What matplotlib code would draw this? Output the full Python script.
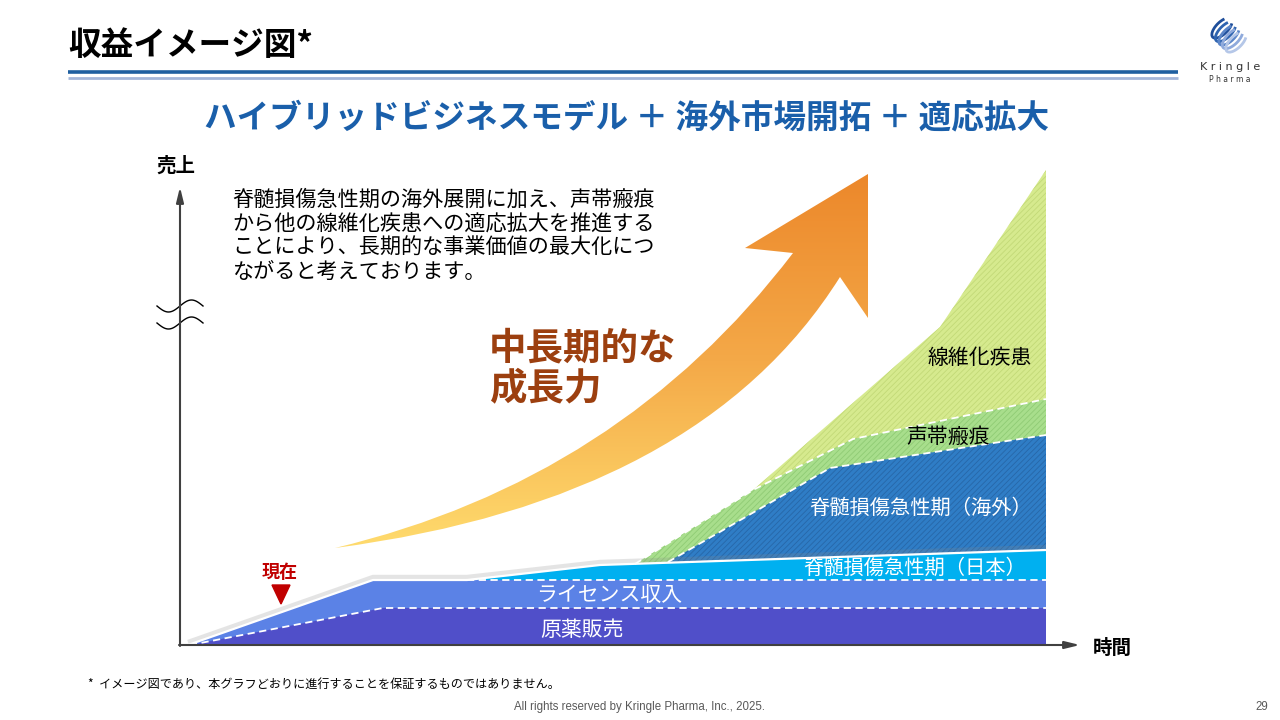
import numpy as np
import matplotlib.pyplot as plt
from matplotlib.path import Path
from matplotlib.patches import PathPatch, Polygon, Arc
from matplotlib.colors import LinearSegmentedColormap
import matplotlib.patheffects as pe

plt.rcParams['font.family'] = ['Noto Sans CJK JP', 'DejaVu Sans']
plt.rcParams['hatch.linewidth'] = 0.6

# --- data: revenue image (x: time, y: sales, arbitrary units) ---
api_x = [10, 203, 866]            # 原薬販売
api_y = [0, 37, 37]
license_x = [8, 193, 287, 866]    # ライセンス収入
license_y = [0, 65, 65, 65]
japan_x = [287, 420, 866]         # 脊髄損傷急性期（日本）
japan_y = [65, 80, 95]
overseas_x = [488, 650, 866]      # 脊髄損傷急性期（海外）
overseas_y = [83, 177, 210]
vocal_x = [455, 573, 673, 866]    # 声帯瘢痕
vocal_y = [81, 155, 206, 246]
fibrosis_x = [573, 760, 866]      # 線維化疾患
fibrosis_y = [155, 318, 475]

# growth arrow outline (slide pixels): tail, lower control, lower end, head, upper end, upper control
arrow_tail = (335, 548)
arrow_lower_ctrl = (700, 500)
arrow_lower_end = (840, 277)
arrow_head = [(868, 318), (868, 174), (745, 248)]
arrow_upper_end = (793, 253)
arrow_upper_ctrl = (620, 480)

fig = plt.figure(figsize=(12.8, 7.2), dpi=100)
bg = fig.add_axes([0, 0, 1, 1])
bg.set_xlim(0, 1280)
bg.set_ylim(720, 0)
bg.axis('off')

# header
bg.text(68, 45, '収益イメージ図*', fontsize=23.5, fontweight='bold', va='center', ha='left', color='black')
bg.plot([68, 1178], [72, 72], color='#1F5FA0', lw=2.6, solid_capstyle='butt')
bg.plot([68, 1178], [77.5, 77.5], color='#A3B6D9', lw=2.0, solid_capstyle='butt')

# logo
logo_cols = ['#1F4E9A', '#2F64B0', '#5C86C8', '#8FAADC', '#B5C7E8']
for i, c in enumerate(logo_cols):
    bg.add_patch(Arc((1222 + i * 3.5, 28 + i * 3.5), 26, 12, angle=-45, theta1=20, theta2=330,
                     color=c, lw=2.0))
bg.text(1230, 67, 'K r i n g l e', fontsize=8, ha='center', va='center', color='#333333',
        family='DejaVu Sans')
bg.text(1230, 80, 'P h a r m a', fontsize=5.5, ha='center', va='center', color='#333333',
        family='DejaVu Sans')

# subtitle
bg.text(627, 118, 'ハイブリッドビジネスモデル ＋ 海外市場開拓 ＋ 適応拡大', fontsize=23.5,
        fontweight='bold', color='#1A5FAA', ha='center', va='center')

# description
desc = ('脊髄損傷急性期の海外展開に加え、声帯瘢痕\n'
        'から他の線維化疾患への適応拡大を推進する\n'
        'ことにより、長期的な事業価値の最大化につ\n'
        'ながると考えております。')
bg.text(232, 189, desc, fontsize=15.2, linespacing=1.12, ha='left', va='top', color='black')

# growth arrow with gradient
verts = [arrow_tail, arrow_lower_ctrl, arrow_lower_end] + arrow_head + \
        [arrow_upper_end, arrow_upper_ctrl, arrow_tail, arrow_tail]
codes = [Path.MOVETO, Path.CURVE3, Path.CURVE3, Path.LINETO, Path.LINETO, Path.LINETO,
         Path.LINETO, Path.CURVE3, Path.CURVE3, Path.CLOSEPOLY]
arrow_patch = PathPatch(Path(verts, codes), facecolor='none', edgecolor='none')
bg.add_patch(arrow_patch)
cmap = LinearSegmentedColormap.from_list('grow', ['#EC872A', '#F4A948', '#FFDC6E'])
grad = np.linspace(0, 1, 256).reshape(-1, 1)
img = bg.imshow(grad, cmap=cmap, extent=(325, 875, 552, 170), origin='upper', aspect='auto',
                interpolation='bilinear', zorder=1)
img.set_clip_path(arrow_patch)
bg.set_xlim(0, 1280)
bg.set_ylim(720, 0)

bg.text(489, 348, '中長期的な', fontsize=27, fontweight='bold', color='#9C3F0F', ha='left', va='center')
bg.text(489, 388, '成長力', fontsize=27, fontweight='bold', color='#9C3F0F', ha='left', va='center')

# axis labels
bg.text(176, 166, '売上', fontsize=14, fontweight='bold', ha='center', va='center')
bg.text(1112, 648, '時間', fontsize=14, fontweight='bold', ha='center', va='center')

# axis break marks
wx = np.linspace(157, 203, 60)
for y0 in (306, 323):
    bg.plot(wx, y0 + 6 * np.sin(2 * np.pi * (wx - 157) / 46), color='black', lw=1.0, zorder=6)

# current marker
bg.text(280, 572, '現在', fontsize=13, fontweight='bold', color='#C00000', ha='center', va='center')
bg.add_patch(Polygon([(272, 585), (290, 585), (281, 604)], closed=True, color='#C00000'))

# footer
bg.text(88, 684, '*  イメージ図であり、本グラフどおりに進行することを保証するものではありません。',
        fontsize=8.7, ha='left', va='center', color='black')
bg.text(640, 707, 'All rights reserved by Kringle Pharma, Inc., 2025.', fontsize=8.3,
        ha='center', va='center', color='#595959', family='Liberation Sans')
bg.text(1262, 707, '29', fontsize=8.3, ha='center', va='center', color='#595959', family='Liberation Sans')

# --- stacked area chart ---
ax = fig.add_axes([180 / 1280, 75 / 720, 900 / 1280, 480 / 720])
ax.set_xlim(0, 900)
ax.set_ylim(0, 480)
ax.axis('off')
ax.patch.set_alpha(0)

ax.fill_between(fibrosis_x, 0, fibrosis_y, facecolor='#D6EA8E', edgecolor='#C2D977',
                hatch='//////', linewidth=0, zorder=1)
ax.fill_between(vocal_x, 0, vocal_y, facecolor='#A8DE8C', edgecolor='#8FCB74',
                hatch='//////', linewidth=0, zorder=2)
ax.fill_between(overseas_x, 0, overseas_y, facecolor='#2F7DC6', edgecolor='#2767A8',
                hatch='//////', linewidth=0, zorder=3)
ax.fill_between(japan_x, 0, japan_y, facecolor='#00B0F0', linewidth=0, zorder=4)
ax.fill_between(license_x, 0, license_y, facecolor='#5B82E6', linewidth=0, zorder=5)
ax.fill_between(api_x, 0, api_y, facecolor='#504FC9', linewidth=0, zorder=6)

# outer outline of the lower stack with a soft shadow
outline_x = license_x[:3] + japan_x[1:]
outline_y = license_y[:3] + japan_y[1:]
shadow = [pe.SimpleLineShadow(offset=(0, 2.0), shadow_color='#888888', alpha=0.22, linewidth=3.5),
          pe.Normal()]
ax.plot(outline_x, outline_y, color='white', lw=1.6, zorder=7, path_effects=shadow,
        solid_capstyle='butt')

dash = (0, (4, 2.5))
ax.plot(api_x, api_y, color='white', lw=1.3, ls=dash, zorder=7)
ax.plot(license_x[2:], license_y[2:], color='white', lw=1.3, ls=dash, zorder=7)
ax.plot(overseas_x, overseas_y, color='white', lw=1.3, ls=dash, zorder=7)
ax.plot(vocal_x, vocal_y, color='white', lw=1.3, ls=dash, zorder=7)

# axes with arrowheads
arrow_kw = dict(arrowstyle='-|>,head_length=0.9,head_width=0.22', color='#404040', lw=1.5,
                shrinkA=0, shrinkB=0)
ax.annotate('', xy=(900, 0), xytext=(-1, 0), arrowprops=arrow_kw, annotation_clip=False, zorder=10)
ax.annotate('', xy=(0, 458), xytext=(0, -1), arrowprops=arrow_kw, annotation_clip=False, zorder=10)

# layer labels
ax.text(800, 287, '線維化疾患', fontsize=15, ha='center', va='center', color='black', zorder=9)
ax.text(768, 208, '声帯瘢痕', fontsize=15, ha='center', va='center', color='black', zorder=9)
ax.text(741, 137, '脊髄損傷急性期（海外）', fontsize=14.6, ha='center', va='center', color='white', zorder=9)
ax.text(735, 77, '脊髄損傷急性期（日本）', fontsize=14.6, ha='center', va='center', color='white', zorder=9)
ax.text(429, 50, 'ライセンス収入', fontsize=15, ha='center', va='center', color='white', zorder=9)
ax.text(402, 15, '原薬販売', fontsize=15, ha='center', va='center', color='white', zorder=9)

fig.savefig('out.png', dpi=100)
